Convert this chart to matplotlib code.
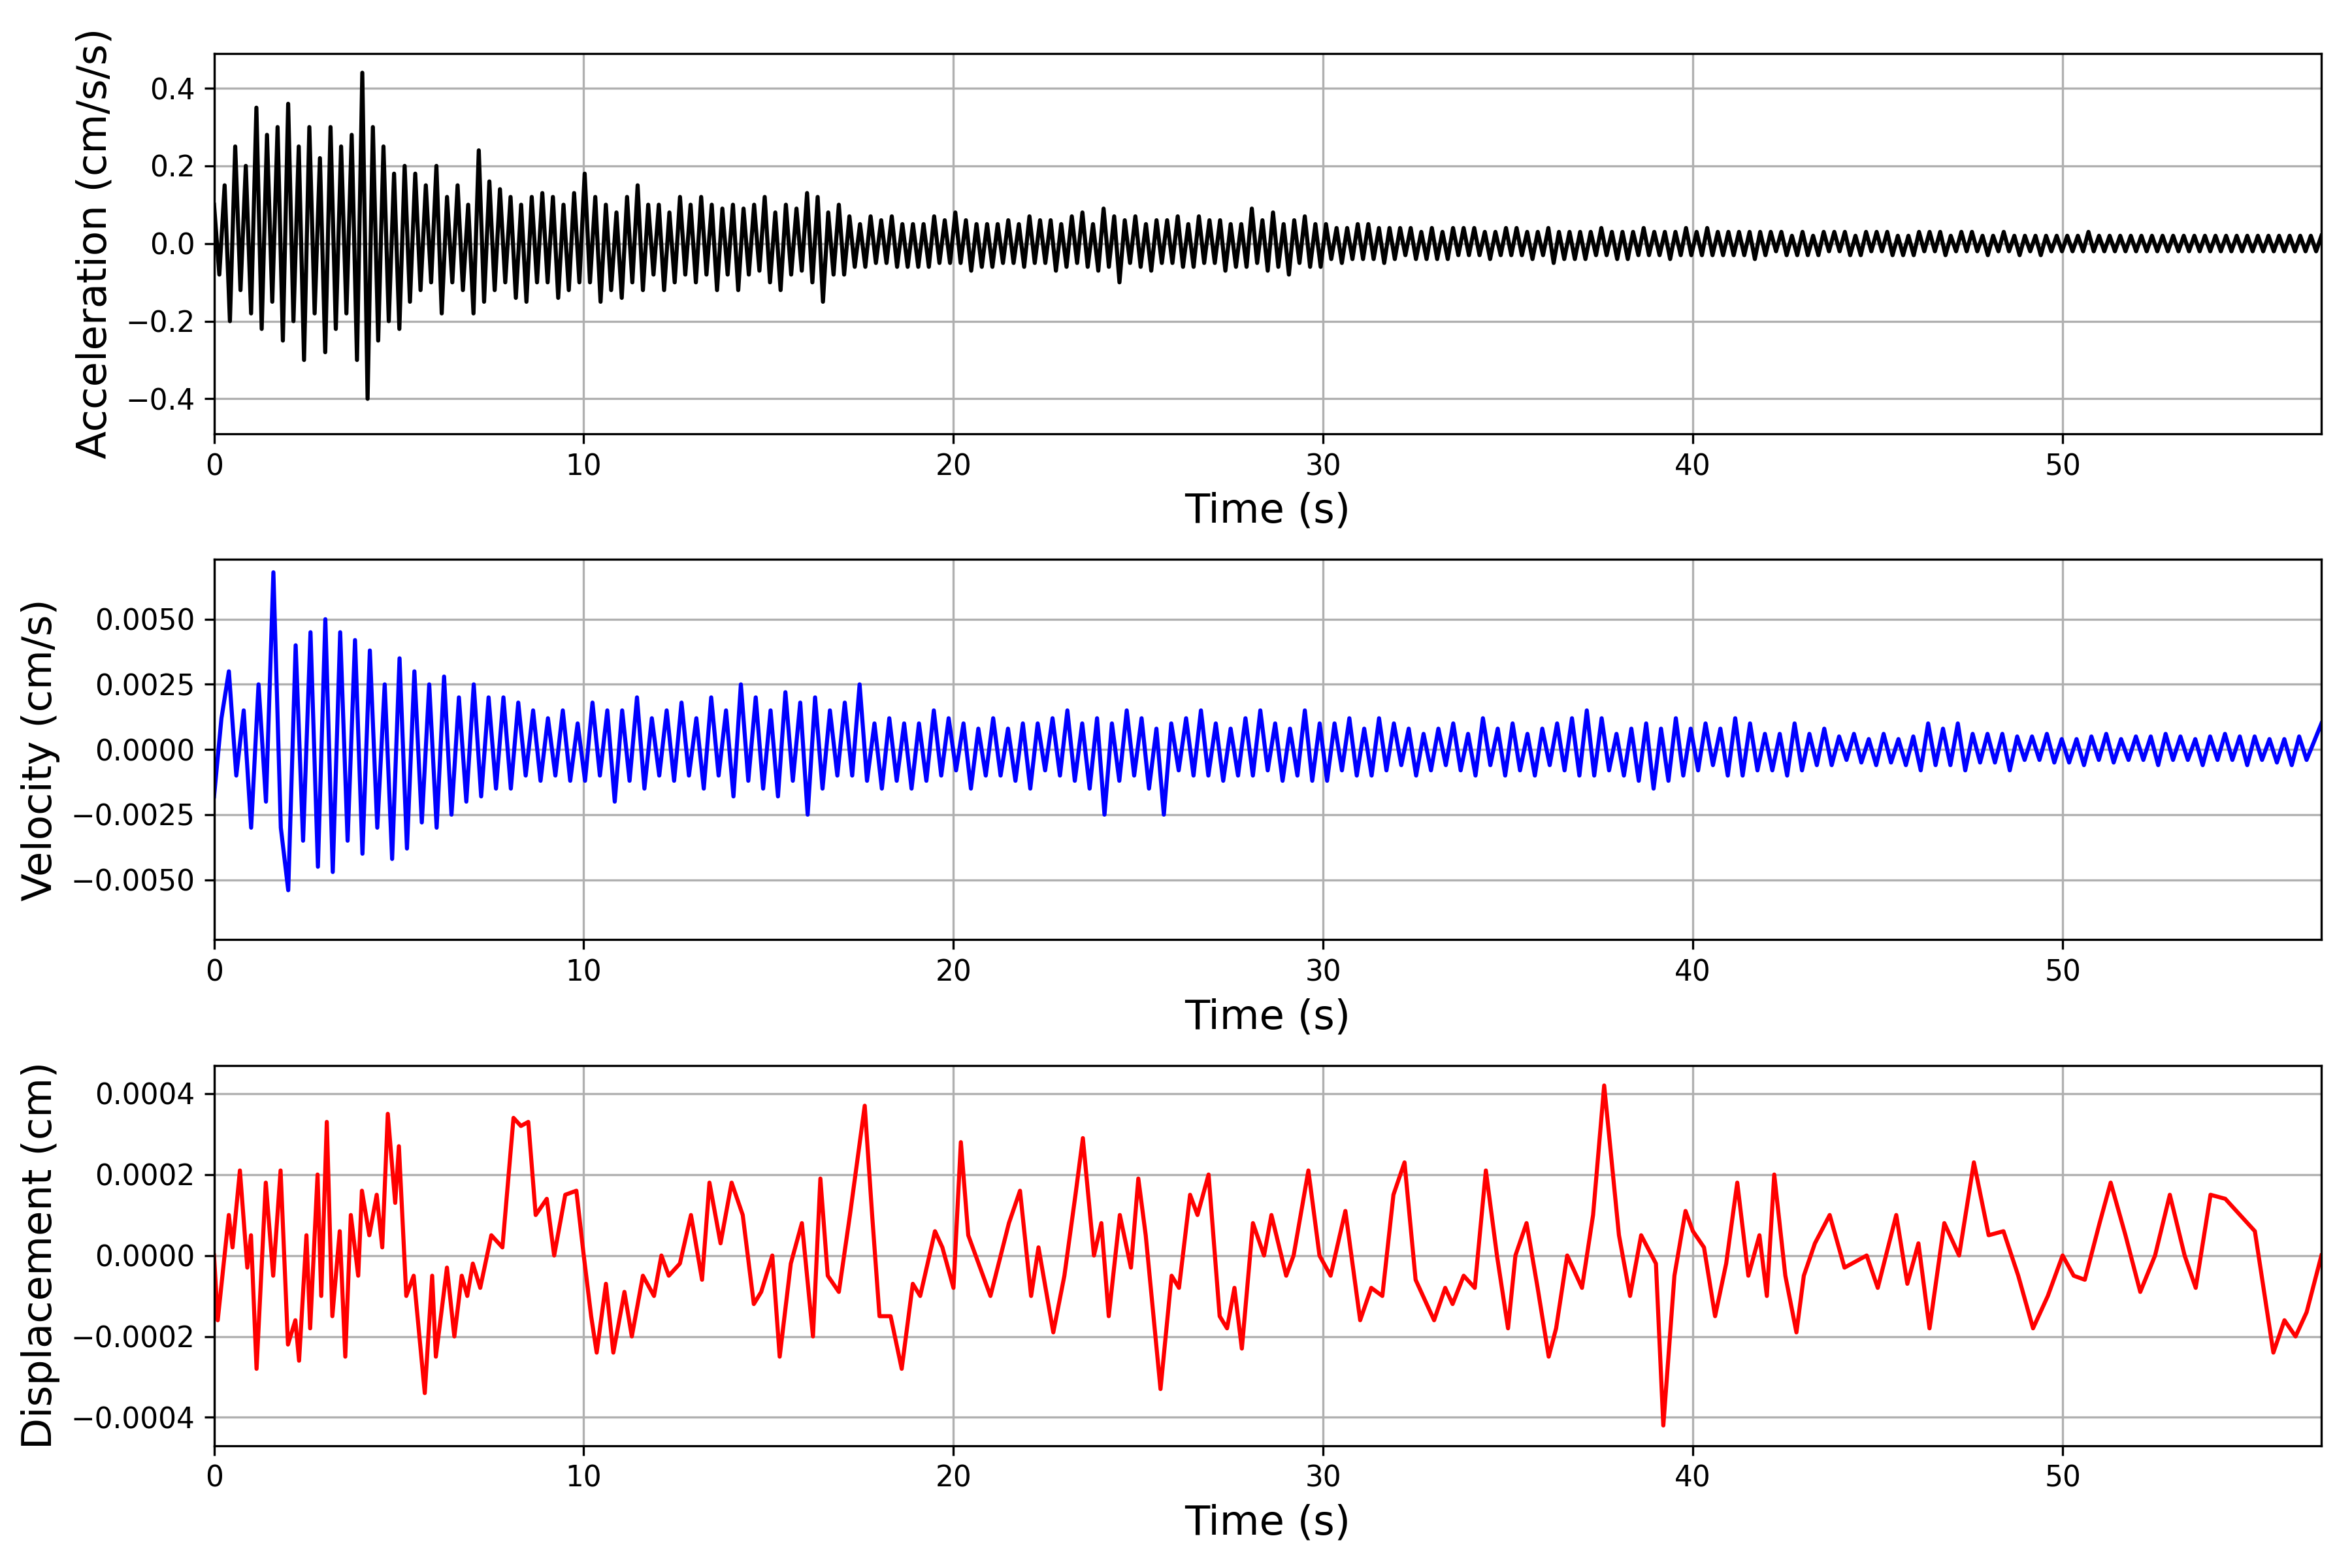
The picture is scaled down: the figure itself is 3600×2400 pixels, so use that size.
import numpy as np
import matplotlib
matplotlib.use("Agg")
import matplotlib.pyplot as plt

T_END = 57.0

# Acceleration (0.01 cm/s/s), ~7 samples per second
ACC = [
    10, -8, 15, -20, 25, -12, 20,
    -18, 35, -22, 28, -15, 30, -25,
    36, -20, 25, -30, 30, -18, 22,
    -28, 30, -22, 25, -18, 28, -30,
    44, -40, 30, -25, 25, -20, 18,
    -22, 20, -15, 18, -12, 15, -10,
    20, -18, 12, -10, 15, -12, 10,
    -18, 24, -15, 16, -12, 14, -10,
    12, -14, 10, -15, 12, -10, 13,
    -10, 12, -14, 10, -12, 13, -10,
    18, -10, 12, -15, 10, -12, 8,
    -14, 12, -10, 15, -12, 10, -8,
    10, -12, 8, -10, 12, -8, 10,
    -10, 12, -8, 10, -12, 9, -8,
    10, -12, 9, -8, 10, -7, 12,
    -10, 8, -12, 10, -8, 9, -7,
    13, -10, 12, -15, 8, -8, 10,
    -8, 7, -6, 5, -6, 7, -5,
    6, -5, 7, -6, 5, -6, 5,
    -6, 5, -6, 7, -5, 6, -5,
    8, -5, 6, -7, 5, -6, 5,
    -6, 5, -5, 6, -5, 5, -6,
    7, -5, 6, -5, 6, -7, 5,
    -6, 7, -5, 8, -6, 5, -7,
    9, -6, 7, -10, 6, -5, 7,
    -6, 5, -7, 6, -5, 6, -5,
    7, -6, 5, -6, 7, -5, 6,
    -5, 6, -7, 5, -6, 5, -6,
    9, -5, 6, -7, 8, -6, 5,
    -8, 6, -5, 7, -6, 5, -6,
    5, -4, 4, -5, 4, -4, 5,
    -4, 5, -4, 4, -5, 4, -4,
    4, -3, 4, -4, 3, -4, 4,
    -4, 3, -4, 4, -3, 4, -3,
    4, -3, 3, -4, 3, -3, 4,
    -3, 4, -3, 3, -4, 3, -3,
    4, -5, 3, -4, 3, -4, 3,
    -4, 3, -3, 4, -3, 3, -4,
    3, -4, 3, -3, 4, -3, 3,
    -3, 3, -4, 3, -3, 4, -3,
    3, -3, 4, -3, 3, -3, 3,
    -3, 3, -3, 3, -4, 3, -3,
    3, -2, 3, -3, 2, -3, 3,
    -3, 2, -3, 3, -2, 3, -2,
    3, -3, 2, -3, 3, -2, 3,
    -2, 3, -3, 2, -3, 2, -3,
    3, -2, 3, -2, 3, -3, 2,
    -2, 3, -2, 3, -2, 2, -3,
    2, -2, 3, -2, 2, -3, 2,
    -2, 2, -3, 2, -2, 2, -2,
    2, -2, 2, -2, 3, -2, 2,
    -2, 2, -2, 2, -2, 2, -2,
    2, -2, 2, -2, 2, -2, 2,
    -2, 2, -2, 2, -2, 2, -2,
    2, -2, 2, -2, 2, -2, 2,
    -2, 2, -2, 2, -2, 2, -2,
    2, -2, 2, -2, 2, -2, 2,
]

# Velocity (1e-4 cm/s), 5 samples per second
VEL = [
    -18, 12, 30, -10, 15, -30, 25, -20, 68, -30,
    -54, 40, -35, 45, -45, 50, -47, 45, -35, 42,
    -40, 38, -30, 25, -42, 35, -38, 30, -28, 25,
    -30, 28, -25, 20, -20, 25, -18, 20, -15, 20,
    -15, 18, -10, 15, -12, 12, -10, 15, -12, 10,
    -12, 18, -10, 15, -20, 15, -12, 20, -15, 12,
    -10, 15, -12, 18, -10, 12, -15, 20, -10, 15,
    -18, 25, -12, 20, -15, 15, -18, 22, -12, 18,
    -25, 20, -15, 15, -10, 18, -10, 25, -12, 10,
    -15, 12, -12, 10, -15, 10, -12, 15, -10, 12,
    -8, 10, -15, 8, -10, 12, -10, 8, -12, 10,
    -15, 10, -8, 12, -10, 15, -12, 10, -15, 12,
    -25, 10, -12, 15, -10, 12, -15, 8, -25, 10,
    -8, 12, -10, 15, -10, 10, -12, 8, -10, 12,
    -10, 15, -8, 10, -12, 8, -10, 15, -12, 10,
    -12, 10, -8, 12, -10, 8, -10, 12, -8, 10,
    -6, 8, -10, 6, -8, 8, -6, 10, -8, 6,
    -10, 12, -6, 8, -10, 10, -8, 6, -10, 8,
    -6, 10, -8, 12, -10, 15, -10, 12, -8, 6,
    -10, 8, -12, 10, -15, 8, -12, 12, -10, 8,
    -8, 10, -6, 8, -10, 12, -10, 10, -8, 6,
    -8, 6, -10, 10, -8, 6, -6, 8, -6, 5,
    -4, 6, -5, 4, -6, 6, -5, 4, -6, 5,
    -8, 10, -6, 8, -6, 10, -8, 6, -5, 6,
    -5, 6, -8, 5, -4, 5, -4, 6, -5, 4,
    -5, 4, -6, 5, -4, 6, -5, 4, -4, 5,
    -4, 5, -6, 6, -4, 5, -4, 4, -6, 5,
    -4, 6, -4, 5, -6, 5, -4, 4, -5, 4,
    -6, 5, -4, 3, 10,
]

# Displacement extrema (time s, value 1e-4 cm)
DISP_T = [
    0, 0.1, 0.4, 0.5, 0.7, 0.9, 1.0, 1.15, 1.4, 1.6, 1.8, 2.0, 2.2, 2.3, 2.5,
    2.6, 2.8, 2.9, 3.05, 3.2, 3.4, 3.55, 3.7, 3.9, 4.0, 4.2, 4.4, 4.55, 4.7,
    4.9, 5.0, 5.2, 5.4, 5.7, 5.9, 6.0, 6.3, 6.5, 6.7, 6.85, 7.0, 7.2, 7.5,
    7.8, 8.1, 8.3, 8.5, 8.7, 9.0, 9.2, 9.5, 9.8, 10.0, 10.2, 10.35, 10.6,
    10.8, 11.1, 11.3, 11.6, 11.9, 12.1, 12.3, 12.6, 12.9, 13.2, 13.4, 13.7,
    14.0, 14.3, 14.6, 14.8, 15.1, 15.3, 15.6, 15.9, 16.2, 16.4, 16.6, 16.9,
    17.2, 17.6, 17.8, 18.0, 18.3, 18.6, 18.9, 19.1, 19.5, 19.7, 20.0, 20.2,
    20.4, 20.8, 21.0, 21.5, 21.8, 22.1, 22.3, 22.7, 23.0, 23.3, 23.5, 23.8,
    24.0, 24.2, 24.5, 24.8, 25.0, 25.2, 25.6, 25.9, 26.1, 26.4, 26.6, 26.9,
    27.2, 27.4, 27.6, 27.8, 28.1, 28.4, 28.6, 29.0, 29.2, 29.6, 29.9, 30.2,
    30.6, 31.0, 31.3, 31.6, 31.9, 32.2, 32.5, 32.8, 33.0, 33.3, 33.5, 33.8,
    34.1, 34.4, 34.7, 35.0, 35.2, 35.5, 35.8, 36.1, 36.3, 36.6, 37.0, 37.3,
    37.6, 38.0, 38.3, 38.6, 39.0, 39.2, 39.5, 39.8, 40.0, 40.3, 40.6, 40.9,
    41.2, 41.5, 41.8, 42.0, 42.2, 42.5, 42.8, 43.0, 43.3, 43.7, 44.1, 44.3,
    44.7, 45.0, 45.5, 45.8, 46.1, 46.4, 46.8, 47.2, 47.6, 48.0, 48.4, 48.8,
    49.2, 49.6, 50.0, 50.3, 50.6, 51.0, 51.3, 51.7, 52.1, 52.5, 52.9, 53.3,
    53.6, 54.0, 54.4, 54.8, 55.2, 55.7, 56.0, 56.3, 56.6, 57.0,
]
DISP = [
    0, -1.6, 1.0, 0.2, 2.1, -0.3, 0.5, -2.8, 1.8, -0.5, 2.1, -2.2, -1.6, -2.6, 0.5,
    -1.8, 2.0, -1.0, 3.3, -1.5, 0.6, -2.5, 1.0, -0.5, 1.6, 0.5, 1.5, 0.2, 3.5,
    1.3, 2.7, -1.0, -0.5, -3.4, -0.5, -2.5, -0.3, -2.0, -0.5, -1.0, -0.2, -0.8, 0.5,
    0.2, 3.4, 3.2, 3.3, 1.0, 1.4, 0.0, 1.5, 1.6, 0.0, -1.5, -2.4, -0.7,
    -2.4, -0.9, -2.0, -0.5, -1.0, 0.0, -0.5, -0.2, 1.0, -0.6, 1.8, 0.3,
    1.8, 1.0, -1.2, -0.9, 0.0, -2.5, -0.2, 0.8, -2.0, 1.9, -0.5, -0.9,
    1.0, 3.7, 1.0, -1.5, -1.5, -2.8, -0.7, -1.0, 0.6, 0.2, -0.8, 2.8,
    0.5, -0.5, -1.0, 0.8, 1.6, -1.0, 0.2, -1.9, -0.5, 1.5, 2.9, 0.0,
    0.8, -1.5, 1.0, -0.3, 1.9, 0.5, -3.3, -0.5, -0.8, 1.5, 1.0, 2.0,
    -1.5, -1.8, -0.8, -2.3, 0.8, 0.0, 1.0, -0.5, 0.0, 2.1, 0.0, -0.5,
    1.1, -1.6, -0.8, -1.0, 1.5, 2.3, -0.6, -1.2, -1.6, -0.8, -1.2, -0.5,
    -0.8, 2.1, 0.0, -1.8, 0.0, 0.8, -0.8, -2.5, -1.8, 0.0, -0.8, 1.0,
    4.2, 0.5, -1.0, 0.5, -0.2, -4.2, -0.5, 1.1, 0.6, 0.2, -1.5, -0.2,
    1.8, -0.5, 0.5, -1.0, 2.0, -0.5, -1.9, -0.5, 0.3, 1.0, -0.3, -0.2,
    0.0, -0.8, 1.0, -0.7, 0.3, -1.8, 0.8, 0.0, 2.3, 0.5, 0.6, -0.5,
    -1.8, -1.0, 0.0, -0.5, -0.6, 0.8, 1.8, 0.5, -0.9, 0.0, 1.5, 0.0,
    -0.8, 1.5, 1.4, 1.0, 0.6, -2.4, -1.6, -2.0, -1.4, 0.0,
]


def main():
    acc = np.array(ACC) * 1e-2
    vel = np.array(VEL) * 1e-4
    disp = np.array(DISP) * 1e-4
    t_acc = np.linspace(0, T_END, len(acc))
    t_vel = np.linspace(0, T_END, len(vel))

    fig, axes = plt.subplots(3, 1, figsize=(12, 8), dpi=300)
    fig.subplots_adjust(left=0.091, right=0.987, top=0.966, bottom=0.078, hspace=0.33)

    panels = [
        (t_acc, acc, 'black', 'Acceleration (cm/s/s)', (-0.49, 0.49), [-0.4, -0.2, 0.0, 0.2, 0.4], '{:.1f}'),
        (t_vel, vel, 'blue', 'Velocity (cm/s)', (-0.0073, 0.0073),
         [-0.005, -0.0025, 0.0, 0.0025, 0.005], '{:.4f}'),
        (np.array(DISP_T), disp, 'red', 'Displacement (cm)', (-0.00047, 0.00047),
         [-0.0004, -0.0002, 0.0, 0.0002, 0.0004], '{:.4f}'),
    ]
    for ax, (t, y, color, label, ylim, yticks, fmt) in zip(axes, panels):
        ax.plot(t, y, color=color, linewidth=1.5)
        ax.set_xlim(0, T_END)
        ax.set_ylim(*ylim)
        ax.set_yticks(yticks)
        ax.set_yticklabels([fmt.format(v).replace('-', '\u2212') for v in yticks])
        ax.set_xticks([0, 10, 20, 30, 40, 50])
        ax.grid(True, color='#b0b0b0', linewidth=0.8)
        ax.set_axisbelow(True)
        ax.set_xlabel('Time (s)', fontsize=15)
        ax.set_ylabel(label, fontsize=15)
        ax.tick_params(labelsize=10.5)

    fig.savefig('out.png')
    plt.close(fig)


if __name__ == "__main__":
    main()
